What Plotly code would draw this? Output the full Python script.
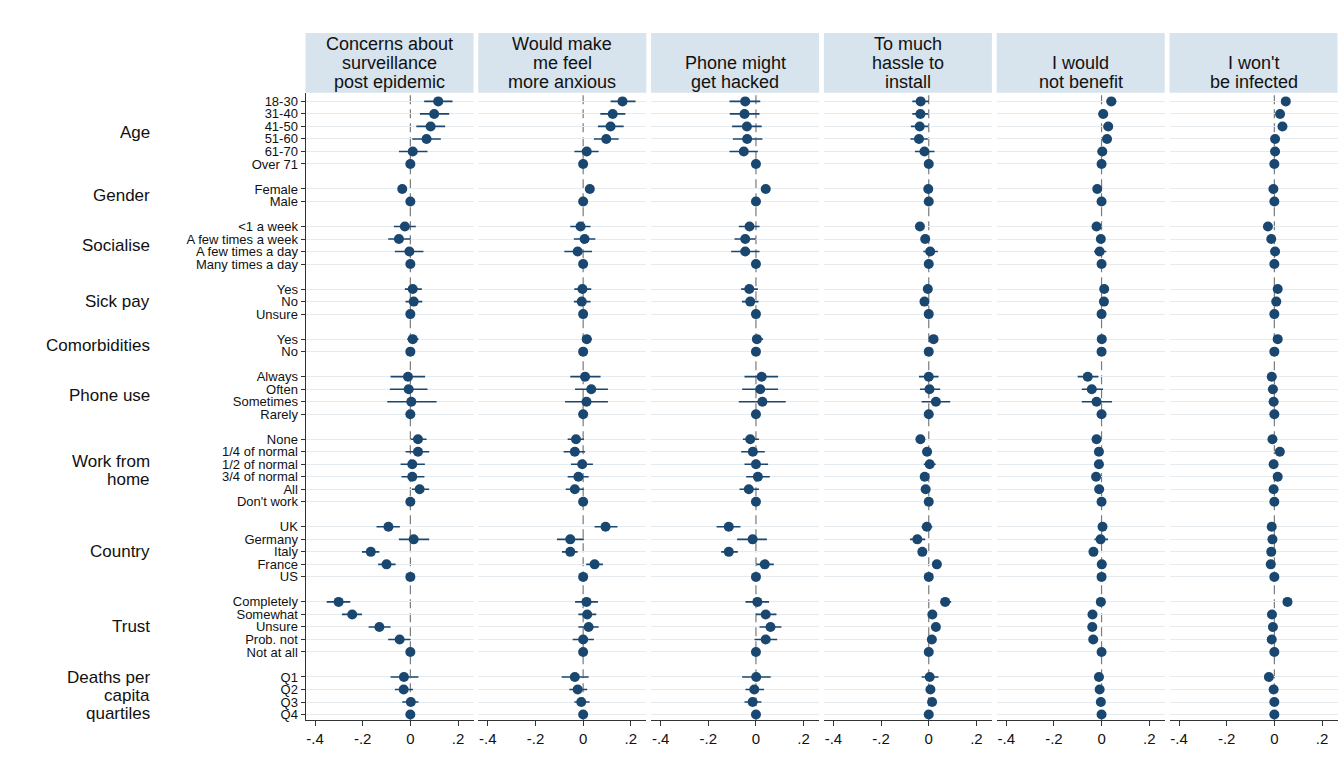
import plotly.graph_objects as go

# ---------------- data ----------------
group_names = ["Age", "Gender", "Socialise", "Sick pay", "Comorbidities", "Phone use",
               "Work from<br>home", "Country", "Trust", "Deaths per<br>capita<br>quartiles"]
group_levels = [
    ["18-30", "31-40", "41-50", "51-60", "61-70", "Over 71"],
    ["Female", "Male"],
    ["<1 a week", "A few times a week", "A few times a day", "Many times a day"],
    ["Yes", "No", "Unsure"],
    ["Yes", "No"],
    ["Always", "Often", "Sometimes", "Rarely"],
    ["None", "1/4 of normal", "1/2 of normal", "3/4 of normal", "All", "Don't work"],
    ["UK", "Germany", "Italy", "France", "US"],
    ["Completely", "Somewhat", "Unsure", "Prob. not", "Not at all"],
    ["Q1", "Q2", "Q3", "Q4"],
]
outcomes = ["Concerns about<br>surveillance<br>post epidemic", "Would make<br>me feel<br>more anxious",
            "Phone might<br>get hacked", "To much<br>hassle to<br>install", "I would<br>not benefit",
            "I won't<br>be infected"]

coef_surv = [0.117, 0.100, 0.085, 0.068, 0.010, 0, -0.034, 0, -0.023, -0.048, -0.004, 0, 0.010, 0.014, 0, 0.010, 0,
             -0.010, -0.007, 0.004, 0, 0.032, 0.032, 0.008, 0.008, 0.039, 0, -0.092, 0.014, -0.166, -0.100, 0,
             -0.301, -0.244, -0.130, -0.045, 0, -0.027, -0.028, 0.002, 0]
lo_surv = [0.058, 0.040, 0.025, 0.008, -0.048, 0, -0.050, 0, -0.069, -0.093, -0.065, 0, -0.023, -0.020, 0, -0.013, 0,
           -0.083, -0.086, -0.097, 0, 0.001, -0.020, -0.041, -0.037, 0.006, 0, -0.142, -0.048, -0.203, -0.135, 0,
           -0.351, -0.287, -0.175, -0.093, 0, -0.083, -0.065, -0.034, 0]
hi_surv = [0.177, 0.163, 0.146, 0.128, 0.072, 0, -0.018, 0, 0.023, 0.001, 0.055, 0, 0.048, 0.050, 0, 0.034, 0,
           0.062, 0.072, 0.110, 0, 0.068, 0.079, 0.061, 0.059, 0.079, 0, -0.044, 0.079, -0.130, -0.062, 0,
           -0.252, -0.203, -0.083, 0.001, 0, 0.034, 0.011, 0.034, 0]

coef_anx = [0.165, 0.124, 0.115, 0.097, 0.015, 0, 0.028, 0, -0.011, 0.006, -0.023, 0, -0.003, -0.006, 0, 0.015, 0,
            0.008, 0.034, 0.014, 0, -0.030, -0.035, -0.004, -0.020, -0.035, 0, 0.094, -0.054, -0.054, 0.048, 0,
            0.014, 0.017, 0.023, 0.000, 0, -0.035, -0.023, -0.008, 0]
lo_anx = [0.115, 0.072, 0.062, 0.045, -0.037, 0, 0.012, 0, -0.054, -0.039, -0.079, 0, -0.037, -0.039, 0, -0.004, 0,
          -0.054, -0.034, -0.076, 0, -0.065, -0.082, -0.051, -0.065, -0.073, 0, 0.048, -0.110, -0.089, 0.013, 0,
          -0.034, -0.020, -0.020, -0.044, 0, -0.090, -0.058, -0.037, 0]
hi_anx = [0.220, 0.177, 0.170, 0.149, 0.065, 0, 0.044, 0, 0.031, 0.051, 0.037, 0, 0.034, 0.031, 0, 0.037, 0,
          0.073, 0.104, 0.104, 0, 0.003, 0.008, 0.041, 0.023, 0.003, 0, 0.144, 0.003, -0.023, 0.083, 0,
          0.062, 0.055, 0.065, 0.045, 0, 0.023, 0.017, 0.027, 0]

coef_hack = [-0.045, -0.048, -0.038, -0.037, -0.051, 0, 0.041, 0, -0.027, -0.045, -0.045, 0, -0.028, -0.024, 0, 0.004, 0,
             0.024, 0.018, 0.027, 0, -0.024, -0.013, 0.000, 0.008, -0.030, 0, -0.114, -0.014, -0.114, 0.037, 0,
             0.006, 0.041, 0.061, 0.041, 0, 0.001, -0.007, -0.014, 0]
lo_hack = [-0.111, -0.110, -0.100, -0.097, -0.111, 0, 0.028, 0, -0.072, -0.090, -0.104, 0, -0.062, -0.059, 0, -0.015, 0,
           -0.048, -0.058, -0.072, 0, -0.055, -0.062, -0.048, -0.041, -0.069, 0, -0.165, -0.079, -0.146, 0.001, 0,
           -0.044, -0.001, 0.015, -0.006, 0, -0.058, -0.044, -0.048, 0]
hi_hack = [0.018, 0.015, 0.024, 0.027, 0.008, 0, 0.054, 0, 0.015, -0.001, 0.015, 0, 0.008, 0.011, 0, 0.030, 0,
           0.093, 0.093, 0.125, 0, 0.013, 0.037, 0.051, 0.058, 0.013, 0, -0.065, 0.046, -0.076, 0.075, 0,
           0.055, 0.086, 0.107, 0.089, 0, 0.062, 0.034, 0.023, 0]

coef_hassle = [-0.034, -0.035, -0.038, -0.041, -0.018, 0, -0.002, 0, -0.037, -0.015, 0.006, 0, -0.004, -0.018, 0, 0.020, 0,
               0.000, 0.003, 0.030, 0, -0.035, -0.007, 0.004, -0.017, -0.013, 0, -0.008, -0.048, -0.027, 0.034, 0,
               0.069, 0.015, 0.030, 0.013, 0, 0.004, 0.007, 0.014, 0]
lo_hassle = [-0.069, -0.069, -0.075, -0.077, -0.058, 0, -0.014, 0, -0.050, -0.030, -0.023, 0, -0.018, -0.032, 0, 0.006, 0,
             -0.041, -0.037, -0.030, 0, -0.048, -0.027, -0.021, -0.032, -0.028, 0, -0.030, -0.079, -0.042, 0.016, 0,
             0.048, 0.000, 0.015, -0.005, 0, -0.030, -0.008, -0.001, 0]
hi_hassle = [0.001, -0.001, -0.001, -0.004, 0.024, 0, 0.010, 0, -0.024, 0.000, 0.038, 0, 0.010, -0.004, 0, 0.034, 0,
             0.041, 0.048, 0.090, 0, -0.022, 0.013, 0.029, -0.002, 0.002, 0, 0.015, -0.015, -0.012, 0.052, 0,
             0.094, 0.030, 0.045, 0.031, 0, 0.041, 0.022, 0.029, 0]

coef_benefit = [0.041, 0.007, 0.028, 0.023, 0.003, 0, -0.018, 0, -0.021, -0.003, -0.008, 0, 0.011, 0.010, 0, 0.001, 0,
                -0.058, -0.041, -0.021, 0, -0.021, -0.011, -0.011, -0.023, -0.010, 0, 0.004, -0.004, -0.034, 0.001, 0,
                -0.003, -0.038, -0.039, -0.035, 0, -0.011, -0.008, -0.003, 0]
lo_benefit = [0.020, -0.013, 0.008, 0.003, -0.017, 0, -0.030, 0, -0.033, -0.015, -0.032, 0, -0.001, -0.002, 0, -0.011, 0,
              -0.100, -0.083, -0.083, 0, -0.033, -0.023, -0.023, -0.035, -0.022, 0, -0.011, -0.030, -0.046, -0.011, 0,
              -0.023, -0.050, -0.051, -0.050, 0, -0.031, -0.020, -0.015, 0]
hi_benefit = [0.062, 0.027, 0.048, 0.043, 0.023, 0, -0.006, 0, -0.009, 0.009, 0.020, 0, 0.023, 0.022, 0, 0.013, 0,
              -0.013, 0.006, 0.044, 0, -0.009, 0.001, 0.001, -0.011, 0.002, 0, 0.019, 0.027, -0.022, 0.013, 0,
              0.017, -0.026, -0.027, -0.020, 0, 0.009, 0.004, 0.009, 0]

coef_infect = [0.048, 0.024, 0.034, 0.003, 0.003, 0, -0.004, 0, -0.027, -0.013, 0.003, 0, 0.014, 0.008, 0, 0.014, 0,
               -0.011, -0.006, -0.003, 0, -0.008, 0.023, -0.003, 0.014, -0.003, 0, -0.011, -0.008, -0.013, -0.015, 0,
               0.055, -0.010, -0.006, -0.011, 0, -0.023, -0.003, 0.000, 0]
lo_infect = [0.038, 0.014, 0.024, -0.007, -0.007, 0, -0.014, 0, -0.037, -0.023, -0.012, 0, 0.004, -0.002, 0, 0.004, 0,
             -0.031, -0.021, -0.023, 0, -0.018, 0.013, -0.013, 0.004, -0.013, 0, -0.021, -0.018, -0.023, -0.025, 0,
             0.040, -0.020, -0.016, -0.021, 0, -0.035, -0.013, -0.010, 0]
hi_infect = [0.058, 0.034, 0.044, 0.013, 0.013, 0, 0.006, 0, -0.017, -0.003, 0.018, 0, 0.024, 0.018, 0, 0.024, 0,
             0.009, 0.009, 0.017, 0, 0.002, 0.033, 0.007, 0.024, 0.007, 0, -0.001, 0.002, -0.003, -0.005, 0,
             0.070, 0.000, 0.004, -0.001, 0, -0.011, 0.007, 0.010, 0]

x_tick_vals = [-0.4, -0.2, 0, 0.2]
x_tick_text = ["-.4", "-.2", "0", ".2"]

# ---------------- layout helpers ----------------
series = [(coef_surv, lo_surv, hi_surv), (coef_anx, lo_anx, hi_anx), (coef_hack, lo_hack, hi_hack),
          (coef_hassle, lo_hassle, hi_hassle), (coef_benefit, lo_benefit, hi_benefit),
          (coef_infect, lo_infect, hi_infect)]

row_pos, row_labels, group_centres = [], [], []
r = 0
for levels in group_levels:
    start = r
    for lv in levels:
        row_pos.append(r)
        row_labels.append(lv)
        r += 1
    group_centres.append((start + r - 1) / 2)
    r += 1

W, H = 1338, 779
left0, step, pw = 305.5, 172.8, 168
plot_top, plot_bot = 93, 722
strip_top = 33
x_range = [-0.44, 0.265]
y_range = [49.45, -0.69]
NAVY = "#1a476f"
FONT = "Liberation Sans, Arial, sans-serif"


def row_to_px(rv):
    return plot_top + (rv - y_range[1]) / (y_range[0] - y_range[1]) * (plot_bot - plot_top)


fig = go.Figure()
layout = dict(width=W, height=H, margin=dict(l=0, r=0, t=0, b=0), showlegend=False,
              paper_bgcolor="white", plot_bgcolor="white",
              font=dict(family=FONT, color="#111"))
shapes, annotations = [], []

for i, (c, lo, hi) in enumerate(series):
    k = "" if i == 0 else str(i + 1)
    x0p = (left0 + step * i) / W
    x1p = (left0 + step * i + pw) / W
    fig.add_trace(go.Scatter(
        x=c, y=row_pos, mode="markers",
        marker=dict(size=10, color=NAVY),
        error_x=dict(type="data", symmetric=False,
                     array=[h - v for h, v in zip(hi, c)],
                     arrayminus=[v - l for v, l in zip(c, lo)],
                     color=NAVY, thickness=1.6, width=0),
        xaxis="x" + k, yaxis="y" + k, hoverinfo="skip"))
    layout["xaxis" + k] = dict(domain=[x0p, x1p], range=x_range, anchor="y" + k,
                               tickvals=x_tick_vals, ticktext=x_tick_text, ticks="outside",
                               ticklen=5, tickcolor="#333", showline=True, linecolor="#333",
                               linewidth=1, showgrid=False, zeroline=False,
                               tickfont=dict(size=15, color="#111"))
    layout["yaxis" + k] = dict(domain=[1 - plot_bot / H, 1 - plot_top / H], range=y_range,
                               anchor="x" + k, tickvals=row_pos, ticktext=row_labels,
                               showticklabels=(i == 0), ticks="outside" if i == 0 else "",
                               ticklen=4, tickcolor="#333",
                               showgrid=True, gridcolor="#e6ebef", gridwidth=1,
                               zeroline=False, showline=(i == 0), linecolor="#333", linewidth=1,
                               tickfont=dict(size=13, color="#111"))
    shapes.append(dict(type="line", xref="x" + k, yref="y" + k + " domain", x0=0, x1=0, y0=0, y1=1,
                       line=dict(color="#7a7a7a", width=1.2, dash="9px,5px"), layer="below"))
    shapes.append(dict(type="rect", xref="paper", yref="paper", x0=x0p, x1=x1p,
                       y0=1 - plot_top / H, y1=1 - strip_top / H,
                       fillcolor="#d7e3ed", line=dict(width=0), layer="below"))
    # header lines: bottom-aligned, 19 px apart
    lines = outcomes[i].split("<br>")
    for j, ln in enumerate(lines):
        ypx = 82 - 19 * (len(lines) - 1 - j)
        annotations.append(dict(text=ln, xref="paper", yref="paper",
                                x=(x0p + x1p) / 2, y=1 - ypx / H,
                                xanchor="center", yanchor="middle",
                                showarrow=False, font=dict(size=18, color="#111")))

for name, yc in zip(group_names, group_centres):
    lines = name.split("<br>")
    cpx = row_to_px(yc)
    for j, ln in enumerate(lines):
        ypx = cpx + 18 * (j - (len(lines) - 1) / 2)
        annotations.append(dict(text=ln, xref="paper", yref="paper", x=152 / W, y=1 - ypx / H,
                                xanchor="right", yanchor="middle",
                                showarrow=False, font=dict(size=17, color="#111")))

layout["shapes"] = shapes
layout["annotations"] = annotations
fig.update_layout(**layout)
fig.write_html("out.html")
